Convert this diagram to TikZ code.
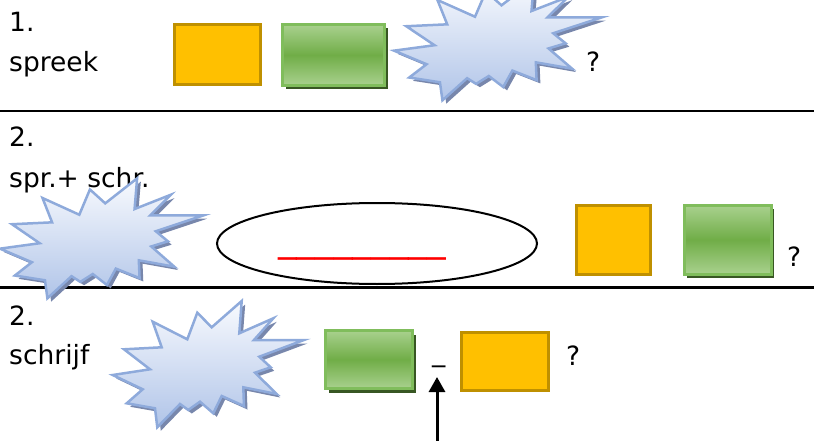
\documentclass[tikz,border=0pt]{standalone}
\usepackage{fontspec}
\setmainfont{DejaVu Sans}
\usetikzlibrary{shapes.geometric,shadows,arrows.meta}

\definecolor{orangefill}{RGB}{255,192,0}
\definecolor{orangeline}{RGB}{191,144,0}
\definecolor{greenmid}{RGB}{112,173,71}
\definecolor{greenlight}{RGB}{169,209,142}
\definecolor{greenline}{RGB}{128,189,92}
\definecolor{greenshadow}{RGB}{56,87,35}
\definecolor{burstline}{RGB}{142,170,219}
\definecolor{bursttop}{RGB}{248,250,254}
\definecolor{burstbottom}{RGB}{176,196,232}
\definecolor{burstshadow}{RGB}{120,135,172}

% outline of the explosion shape, around its centre
\newcommand{\burstpath}{(-95.3,11) -- (-58,5.3) -- (-84,-14.7) -- (-46.3,-16.7) -- (-55.3,-42.3) -- (-20.7,-24.7) -- (-10.7,-51.3) -- (3.7,-36.7) -- (33.7,-63) -- (31.3,-30.7) -- (65.3,-45.7) -- (46,-24) -- (96,-24) -- (51.3,-7.3) -- (62.7,3.3) -- (47,8.7) -- (68.7,30) -- (35.3,23.3) -- (36,42) -- (13.7,32) -- (5.3,49.3) -- (-8,37.7) -- (-19.7,46) -- (-28,40) -- (-50.7,63.3) -- (-53,44.3) -- (-81.3,39.3) -- (-65.3,25.3) -- cycle}

\begin{document}
\begin{tikzpicture}
[x=1pt,y=-1pt,
rowtext/.style={anchor=base west,inner sep=0pt,font=\fontsize{26.5}{32}\selectfont},
orangebox/.style={draw=orangeline,fill=orangefill,line width=3pt,inner sep=0pt},
greenbox/.style={draw=greenline,line width=3pt,inner sep=0pt,top color=greenlight,bottom color=greenlight,middle color=greenmid,drop shadow={shadow xshift=3pt,shadow yshift=-4pt,fill=greenshadow,opacity=1}},
sepline/.style={black,line width=2.5pt},
arrowline/.style={-{Triangle[width=16pt,length=15pt]},black,line width=3pt},
burst/.pic={
\fill[burstshadow,shift={(3.5,3.5)}] \burstpath;
\draw[burstline,line width=2.5pt,top color=bursttop,bottom color=burstbottom] \burstpath;
}]

\useasboundingbox (0,0) rectangle (814,441);

% separators
\draw[sepline] (0,111) -- (814,111);
\draw[sepline] (0,287.5) -- (814,287.5);

% 1. spreek
\node[rowtext](numA) at (9,32){1.};
\node[rowtext](wordA) at (9,72){spreek};
\node[orangebox,minimum width=86pt,minimum height=60pt](orangeA) at (217.5,55){};
\node[greenbox,minimum width=102pt,minimum height=61pt](greenA) at (333.5,55){};
\pic[xscale=1.086,yscale=0.95] (burstA) at (497.5,40.2) {burst};
\node[rowtext](askA) at (586,71.7){?};

% 2. spr.+ schr.
\node[rowtext](numB) at (9,146.5){2.};
\node[rowtext](wordB) at (9,187){spr.+ schr.};
\pic[xscale=1.063,yscale=0.95] (burstB) at (101.3,238.2) {burst};
\node[draw,ellipse,line width=2pt,minimum width=320pt,minimum height=81pt,inner sep=0pt](gap) at (377,243.5){};
\node[anchor=base west,inner sep=0pt,text=red,font=\fontsize{37.3}{40}\selectfont](blank) at (278,251.5){\_\_\_\_\_\_\_\_\_};
\node[orangebox,minimum width=74pt,minimum height=69pt](orangeB) at (613.5,239.7){};
\node[greenbox,minimum width=87pt,minimum height=69pt](greenB) at (727.5,239.7){};
\node[rowtext](askB) at (787,266.7){?};

% 2. schrijf
\node[rowtext](numC) at (9,325){2.};
\node[rowtext](wordC) at (9,364.5){schrijf};
\pic (burstC) at (208,364) {burst};
\node[greenbox,minimum width=87pt,minimum height=58pt](greenC) at (369,359.5){};
\node[rowtext](dash) at (432,361){\_};
\node[orangebox,minimum width=87pt,minimum height=58pt](orangeC) at (505,361.5){};
\node[rowtext](askC) at (566,365){?};

% pointer
\coordinate (arrowfoot) at (437,441);
\coordinate (arrowtip) at (437,377);
\draw[arrowline] (arrowfoot) -- (arrowtip);

\end{tikzpicture}
\end{document}
